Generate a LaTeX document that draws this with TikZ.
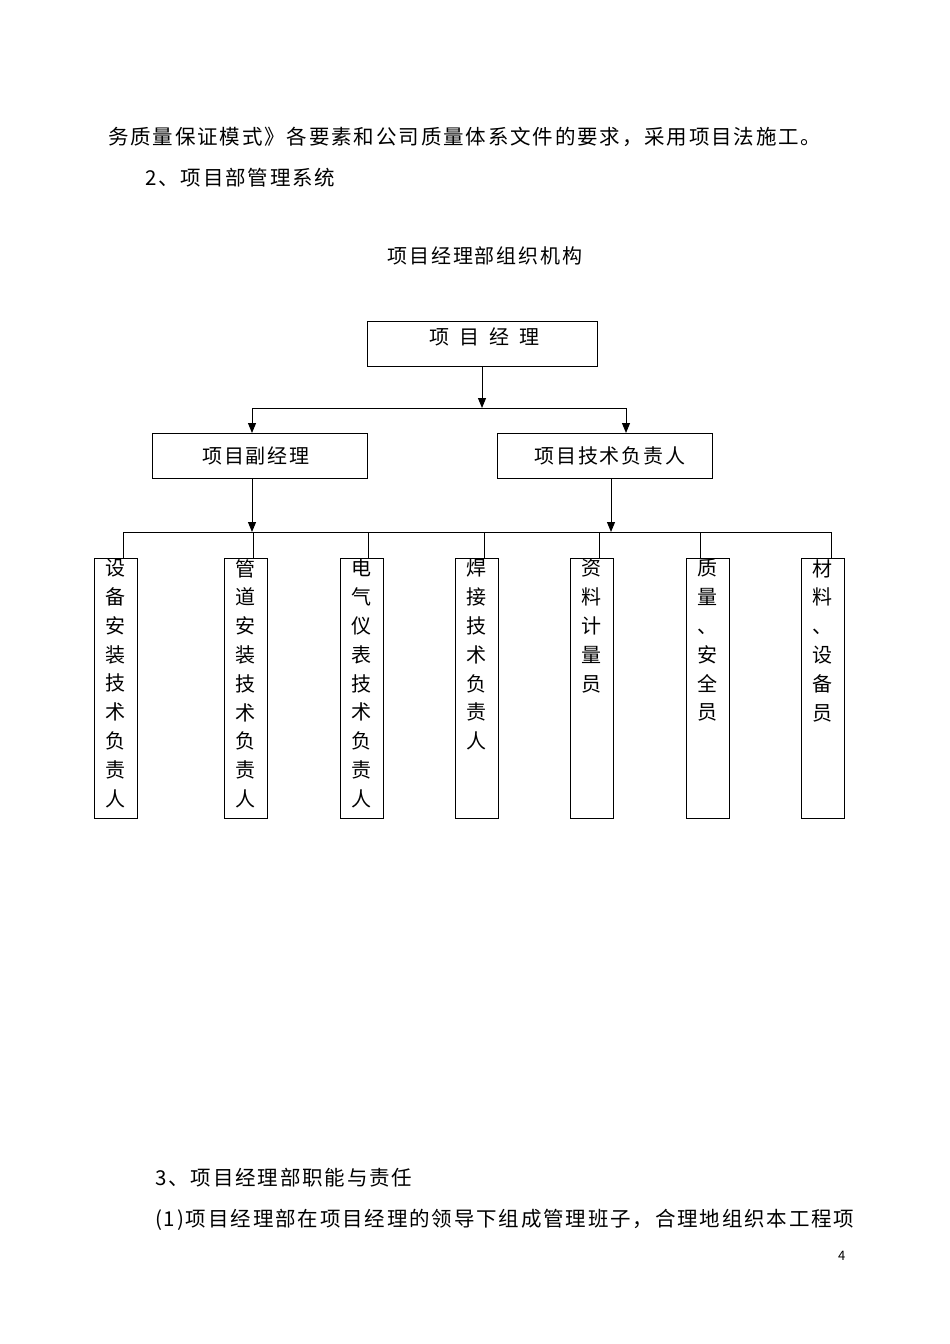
\documentclass[tikz,border=0pt]{standalone}
\usepackage{fontspec}
\setmainfont{Noto Sans CJK SC}[LetterSpace=9]
\usetikzlibrary{arrows.meta}
\begin{document}
\begin{tikzpicture}[x=1pt,y=-1pt,
  bx/.style={draw,line width=1pt,inner sep=0pt},
  ln/.style={line width=1pt},
  ar/.style={line width=1pt,-{Triangle[length=10pt,width=8pt]}},
  tx/.style={font=\fontsize{20.5}{24}\selectfont,anchor=west,inner sep=0pt},
  vt/.style={font=\fontsize{20}{28.8}\selectfont,align=center,anchor=north,inner sep=0pt}]
\path[use as bounding box] (0,0) rectangle (950,1344);
\node[tx] (l1) at (108,137) {务质量保证模式》各要素和公司质量体系文件的要求，采用项目法施工。};
\node[tx] (l2) at (145,178) {2、项目部管理系统};
\node[tx,anchor=center,font=\fontsize{20}{24}\selectfont] (t) at (485,256) {项目经理部组织机构};
\draw[bx] (367,321) rectangle (597,366);
\node[tx,anchor=center,font=\fontsize{20}{24}\selectfont] (pm) at (484,337) {项\enspace 目\enspace 经\enspace 理};
\coordinate (pmb) at (482,366);
\draw[ar] (pmb) -- (482,408);
\draw[ln] (252,408) -- (626,408);
\draw[ar] (252,408) -- (252,433);
\draw[ar] (626,408) -- (626,433);
\draw[bx] (152,433) rectangle (367,478);
\node[tx,anchor=center,font=\fontsize{20}{24}\selectfont] (vp) at (256,456) {项目副经理};
\draw[bx] (497,433) rectangle (712,478);
\node[tx,anchor=center,font=\fontsize{20}{24}\selectfont] (te) at (610,456) {项目技术负责人};
\draw[ar] (252,478) -- (252,532);
\draw[ar] (611,478) -- (611,532);
\draw[ln] (123,532) -- (831,532);
\foreach \l/\d/\t in {94/123/设\\备\\安\\装\\技\\术\\负\\责\\人,
                       224/253/管\\道\\安\\装\\技\\术\\负\\责\\人,
                       340/368/电\\气\\仪\\表\\技\\术\\负\\责\\人,
                       455/484/焊\\接\\技\\术\\负\\责\\人,
                       570/599/资\\料\\计\\量\\员,
                       686/700/质\\量\\、\\安\\全\\员,
                       801/831/材\\料\\、\\设\\备\\员}{
  \draw[ln] (\d,532) -- (\d,558);
  \draw[bx] (\l,558) rectangle ({\l+43},818);
  \node[vt] at ({\l+21.5},559) {\t};
}
\node[tx] (l3) at (155,1178) {3、项目经理部职能与责任};
\node[tx] (l4) at (155,1220) {(1)项目经理部在项目经理的领导下组成管理班子，合理地组织本工程项};
\node[tx,font=\fontsize{13}{15}\selectfont] (pg) at (838,1256) {4};
\end{tikzpicture}
\end{document}
